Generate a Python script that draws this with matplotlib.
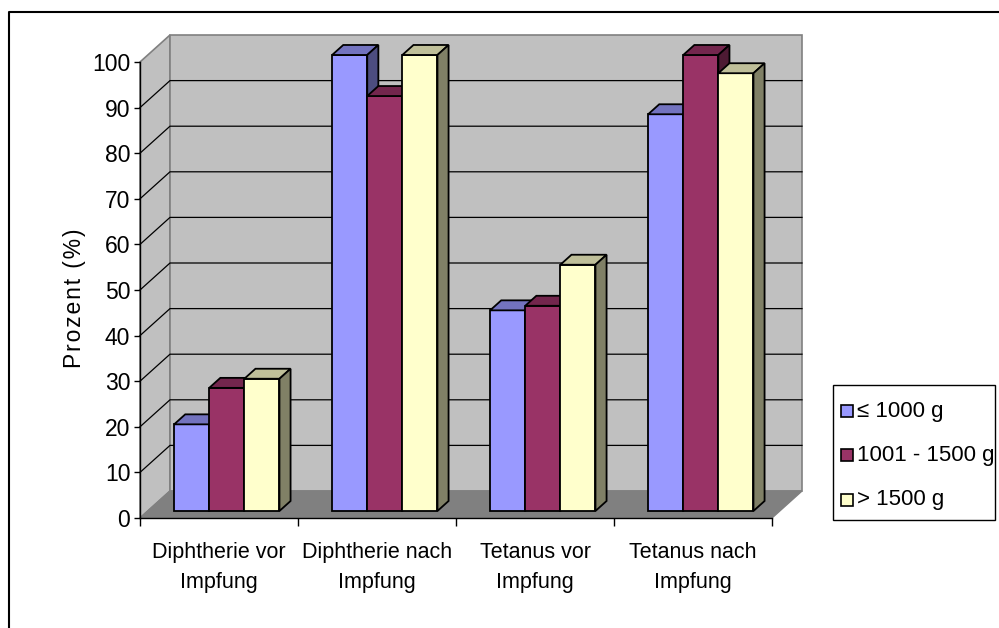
import matplotlib
matplotlib.use("Agg")
import matplotlib.pyplot as plt
from matplotlib.patches import Polygon, Rectangle
from matplotlib.lines import Line2D

# ---- data ----
categories = ["Diphtherie vor\nImpfung", "Diphtherie nach\nImpfung",
              "Tetanus vor\nImpfung", "Tetanus nach\nImpfung"]
series_names = ["\u2264 1000 g", "1001 - 1500 g", "> 1500 g"]
values_le1000 = [19, 100, 44, 87]
values_1001_1500 = [27, 91, 45, 100]
values_gt1500 = [29, 100, 54, 96]
y_ticks = [0, 10, 20, 30, 40, 50, 60, 70, 80, 90, 100]

series_values = [values_le1000, values_1001_1500, values_gt1500]
front_colors = ["#9999FF", "#993366", "#FFFFCC"]
top_colors = ["#7373BF", "#73264D", "#BFBF99"]
side_colors = ["#4D4D80", "#4D1A33", "#808066"]

FONT = ["Liberation Sans Narrow", "Liberation Sans", "DejaVu Sans"]
plt.rcParams["font.family"] = FONT

W, H = 999, 628
fig = plt.figure(figsize=(W / 100, H / 100), dpi=100)


def fx(px):
    return px / W


def fy(py):
    return 1 - py / H


# front plane of the plot area
ax = fig.add_axes([fx(140), fy(518), (772 - 140) / W, (518 - 62) / H])
ax.set_xlim(0, len(categories))
ax.set_ylim(0, 100)
ax.patch.set_visible(False)

# depth of the 3D box in data units
px_x = (772 - 140) / len(categories)
px_y = (518 - 62) / 100
DX = 30 / px_x
DY = 27 / px_y

wall_col = "#C0C0C0"
edge_grey = "#808080"
ncat = len(categories)

# left wall, back wall and floor
ax.add_patch(Polygon([(0, 0), (DX, DY), (DX, 100 + DY), (0, 100)], closed=True,
                     facecolor=wall_col, edgecolor=edge_grey, lw=1.2,
                     clip_on=False, zorder=0.5))
ax.add_patch(Polygon([(DX, DY), (ncat + DX, DY), (ncat + DX, 100 + DY), (DX, 100 + DY)],
                     closed=True, facecolor=wall_col, edgecolor=edge_grey, lw=1.2,
                     clip_on=False, zorder=0.5))
ax.add_patch(Polygon([(0, 0), (ncat, 0), (ncat + DX, DY), (DX, DY)], closed=True,
                     facecolor="#808080", edgecolor="#808080", lw=1,
                     clip_on=False, zorder=0.6))

# gridlines on the walls
for v in y_ticks[1:-1]:
    ax.add_line(Line2D([0, DX, ncat + DX], [v, v + DY, v + DY], color="black",
                       lw=0.9, clip_on=False, zorder=0.8))

# 3D columns
gap = 1.5
bw = 1 / (len(series_values) + gap)
f0, f1 = 0.26, 0.63  # front/back depth fraction of the columns
for i in range(ncat):
    for j, vals in enumerate(series_values):
        v = vals[i]
        x0 = i + gap * bw / 2 + j * bw + f0 * DX
        y0 = f0 * DY
        ddx = (f1 - f0) * DX
        ddy = (f1 - f0) * DY
        z = 2 + i * 0.1 + j * 0.01
        kw = dict(edgecolor="black", lw=1.3, joinstyle="miter", clip_on=False, zorder=z)
        ax.add_patch(Polygon([(x0, y0), (x0 + bw, y0), (x0 + bw, y0 + v), (x0, y0 + v)],
                             closed=True, facecolor=front_colors[j], **kw))
        ax.add_patch(Polygon([(x0, y0 + v), (x0 + bw, y0 + v),
                              (x0 + bw + ddx, y0 + v + ddy), (x0 + ddx, y0 + v + ddy)],
                             closed=True, facecolor=top_colors[j], **kw))
        ax.add_patch(Polygon([(x0 + bw, y0), (x0 + bw + ddx, y0 + ddy),
                              (x0 + bw + ddx, y0 + v + ddy), (x0 + bw, y0 + v)],
                             closed=True, facecolor=side_colors[j], **kw))

# axes
for s in ["top", "right"]:
    ax.spines[s].set_visible(False)
for s in ["left", "bottom"]:
    ax.spines[s].set_color("black")
    ax.spines[s].set_linewidth(1.0)
    ax.spines[s].set_zorder(3)

ax.set_yticks(y_ticks)
ax.set_yticklabels([str(t) for t in y_ticks])
ax.tick_params(axis="y", direction="out", length=4, width=1, pad=3, labelsize=16.5)

ax.set_xticks(range(ncat + 1))
ax.set_xticklabels([])
ax.tick_params(axis="x", which="major", direction="out", length=6, width=1)
ax.set_xticks([i + 0.5 for i in range(ncat)], minor=True)
ax.set_xticklabels(categories, minor=True, fontsize=15.5, linespacing=1.6)
ax.tick_params(axis="x", which="minor", length=0, pad=17)

fig.text(fx(75), fy(298), "\u200a".join("Prozent (%)"), rotation=90, ha="center",
         va="center", fontsize=16.5, family=["Liberation Sans", "DejaVu Sans"])

# legend
fig.add_artist(Rectangle((fx(833), fy(520)), (995 - 833) / W, (520 - 385) / H,
                         transform=fig.transFigure, facecolor="white",
                         edgecolor="black", lw=1.0))
rows = [411, 455, 500]
for name, col, ry in zip(series_names, front_colors, rows):
    fig.add_artist(Rectangle((fx(841), fy(ry + 6)), 12 / W, 12 / H,
                             transform=fig.transFigure, facecolor=col,
                             edgecolor="black", lw=1.2))
    fig.text(fx(857), fy(ry), name, ha="left", va="center", fontsize=16)

# outer frame
fig.add_artist(Line2D([fx(9), fx(9), fx(999)], [fy(628), fy(12), fy(12)],
                      transform=fig.transFigure, color="black", lw=1.5))

fig.savefig("out.png", dpi=100, facecolor="white")
